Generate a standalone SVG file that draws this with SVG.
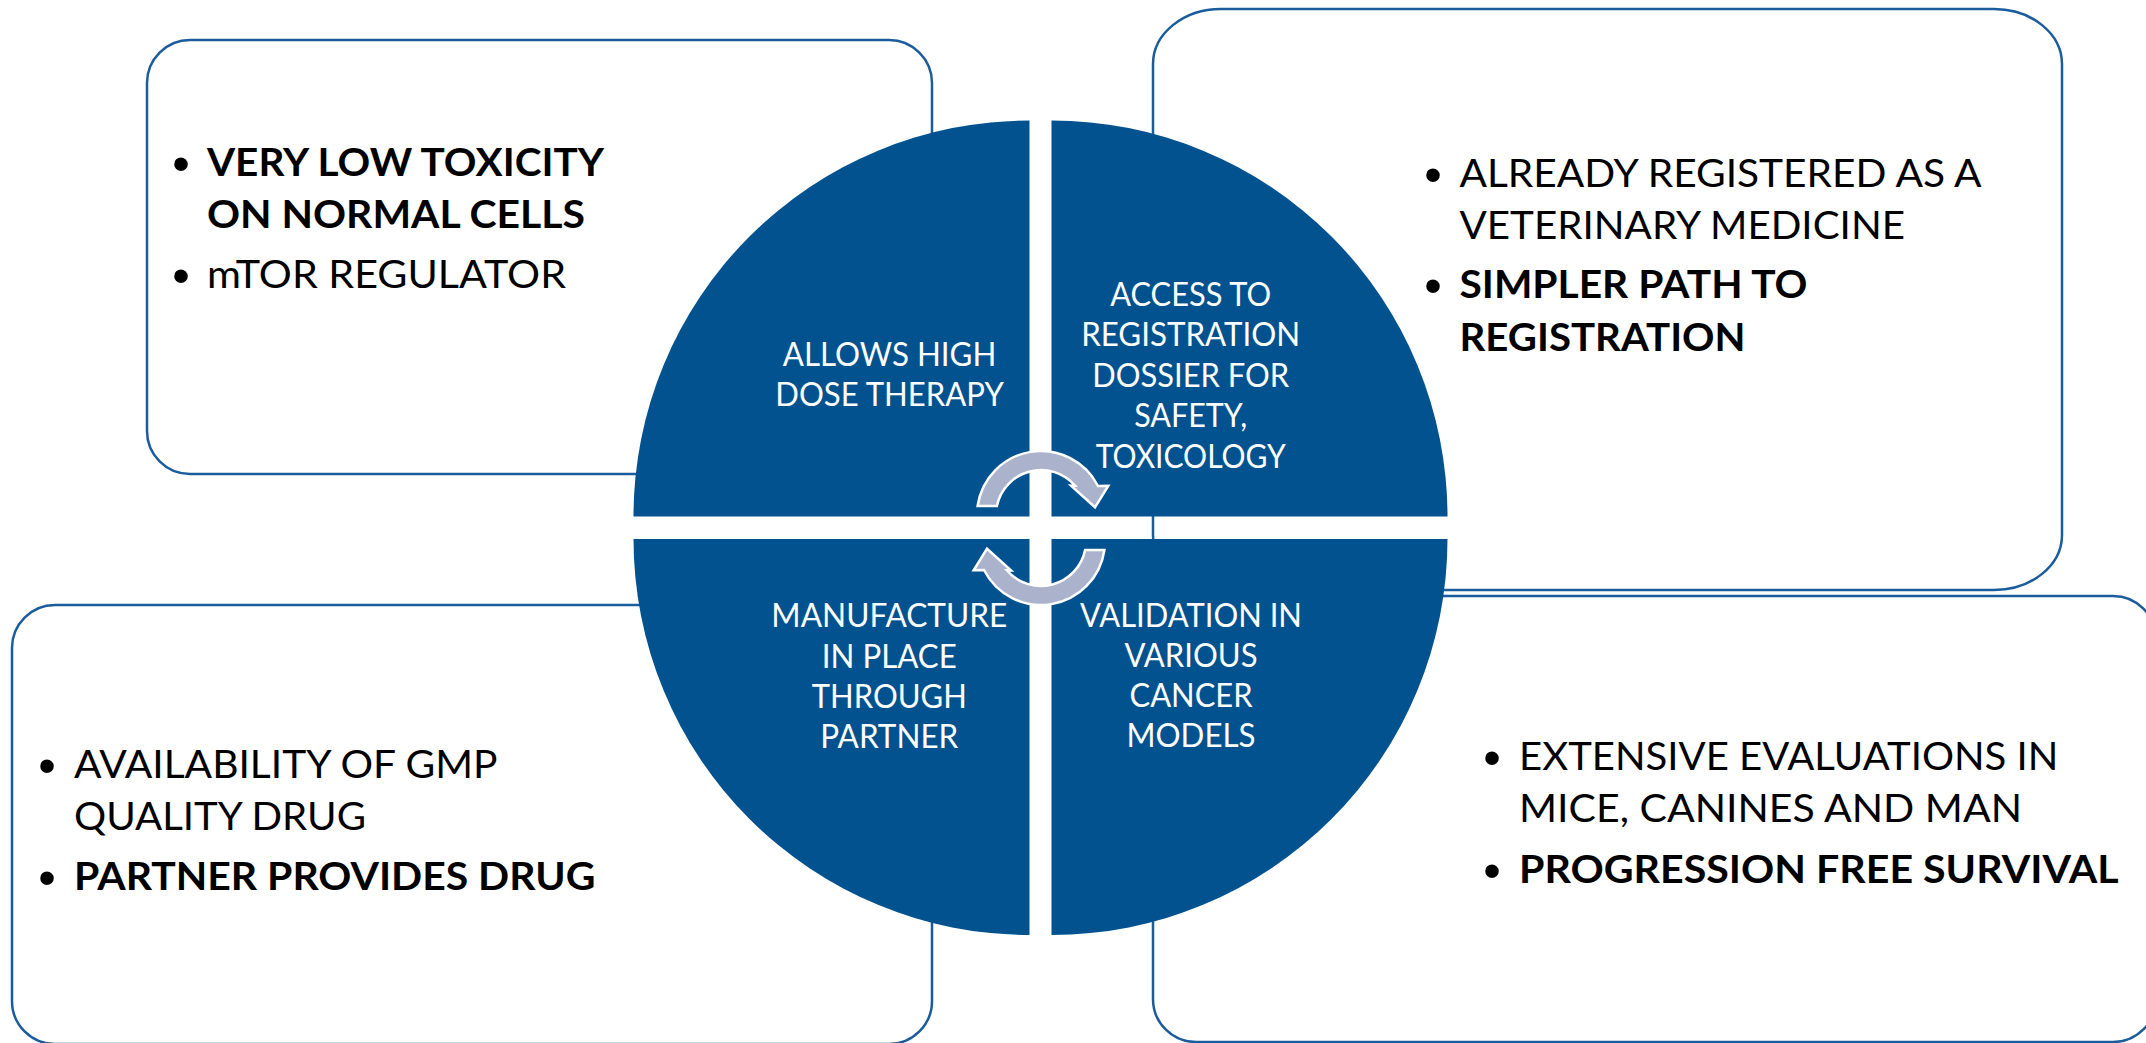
<svg xmlns="http://www.w3.org/2000/svg" width="2146" height="1043" viewBox="0 0 2146 1043">
<style>
.box{fill:#ffffff;stroke:#1B5C9C;stroke-width:2.5}
.q{fill:#02528F}
.bt{font-family:Lato,'Open Sans','Liberation Sans',sans-serif;font-size:39px;fill:#000000}
.b{font-weight:bold}
.bul{font-family:'Liberation Sans',sans-serif;font-size:50px;fill:#000000;text-anchor:middle}
.qt{font-family:Lato,'Open Sans','Liberation Sans',sans-serif;font-size:32px;fill:#ffffff;text-anchor:middle}
.arr{fill:#AAB3CB;stroke:#ffffff;stroke-width:2.5;stroke-linejoin:miter}
</style>
<defs>
<path id="cyc" d="M977.6,506 A64,64 0 0 1 1098,486 L1108.3,485.7 L1095,507.3 L1071,485.7 L1075.2,485.8 A45,45 0 0 0 996.9,506 Z"/>
</defs>
<rect width="2146" height="1043" fill="#ffffff"/>

<g id="box-top-left">
<rect class="box" x="147" y="40" width="785" height="434" rx="43" ry="43"/>
<text class="bul" x="181" y="181">•</text>
<text class="bt b" x="207" y="176" textLength="397" lengthAdjust="spacingAndGlyphs">VERY LOW TOXICITY</text>
<text class="bt b" x="207" y="227.6" textLength="378" lengthAdjust="spacingAndGlyphs">ON NORMAL CELLS</text>
<text class="bul" x="181" y="293.4">•</text>
<text class="bt" x="207" y="288.4" textLength="359" lengthAdjust="spacingAndGlyphs">mTOR REGULATOR</text>
</g>

<g id="box-top-right">
<rect class="box" x="1153" y="9" width="909" height="581" rx="68" ry="55"/>
<text class="bul" x="1433" y="191.7">•</text>
<text class="bt" x="1459.5" y="186.7" textLength="522" lengthAdjust="spacingAndGlyphs">ALREADY REGISTERED AS A</text>
<text class="bt" x="1459.5" y="239.3" textLength="445.5" lengthAdjust="spacingAndGlyphs">VETERINARY MEDICINE</text>
<text class="bul" x="1433" y="302.5">•</text>
<text class="bt b" x="1459.5" y="297.5" textLength="348" lengthAdjust="spacingAndGlyphs">SIMPLER PATH TO</text>
<text class="bt b" x="1459.5" y="350.5" textLength="286" lengthAdjust="spacingAndGlyphs">REGISTRATION</text>
</g>

<g id="box-bottom-left">
<rect class="box" x="12" y="605" width="920" height="439" rx="43" ry="43"/>
<text class="bul" x="47" y="783.3">•</text>
<text class="bt" x="74" y="778.3" textLength="423.5" lengthAdjust="spacingAndGlyphs">AVAILABILITY OF GMP</text>
<text class="bt" x="74" y="830" textLength="292" lengthAdjust="spacingAndGlyphs">QUALITY DRUG</text>
<text class="bul" x="47" y="895">•</text>
<text class="bt b" x="74" y="890" textLength="521.4" lengthAdjust="spacingAndGlyphs">PARTNER PROVIDES DRUG</text>
</g>

<g id="box-bottom-right">
<rect class="box" x="1153" y="596" width="1003" height="446" rx="43" ry="43"/>
<text class="bul" x="1492" y="775">•</text>
<text class="bt" x="1519" y="770" textLength="539.4" lengthAdjust="spacingAndGlyphs">EXTENSIVE EVALUATIONS IN</text>
<text class="bt" x="1519" y="821.7" textLength="503" lengthAdjust="spacingAndGlyphs">MICE, CANINES AND MAN</text>
<text class="bul" x="1492" y="887.7">•</text>
<text class="bt b" x="1519" y="882.7" textLength="599.6" lengthAdjust="spacingAndGlyphs">PROGRESSION FREE SURVIVAL</text>
</g>

<g id="quadrant-top-left">
<path class="q" d="M1029.5,516.5 L633.5,516.5 A396,396 0 0 1 1029.5,120.5 Z"/>
<text class="qt" x="889.6" y="366" textLength="213.5" lengthAdjust="spacingAndGlyphs">ALLOWS HIGH</text>
<text class="qt" x="889.6" y="406" textLength="228.6" lengthAdjust="spacingAndGlyphs">DOSE THERAPY</text>
</g>

<g id="quadrant-top-right">
<path class="q" d="M1051.5,516.5 L1051.5,120.5 A396,396 0 0 1 1447.5,516.5 Z"/>
<text class="qt" x="1190.7" y="305.5" textLength="161" lengthAdjust="spacingAndGlyphs">ACCESS TO</text>
<text class="qt" x="1190.7" y="346" textLength="219" lengthAdjust="spacingAndGlyphs">REGISTRATION</text>
<text class="qt" x="1190.7" y="386.5" textLength="197" lengthAdjust="spacingAndGlyphs">DOSSIER FOR</text>
<text class="qt" x="1190.7" y="427" textLength="113" lengthAdjust="spacingAndGlyphs">SAFETY,</text>
<text class="qt" x="1190.7" y="467.5" textLength="190" lengthAdjust="spacingAndGlyphs">TOXICOLOGY</text>
</g>

<g id="quadrant-bottom-left">
<path class="q" d="M1029.5,539 L1029.5,935 A396,396 0 0 1 633.5,539 Z"/>
<text class="qt" x="889.3" y="627.3" textLength="236" lengthAdjust="spacingAndGlyphs">MANUFACTURE</text>
<text class="qt" x="889.3" y="668.3" textLength="135" lengthAdjust="spacingAndGlyphs">IN PLACE</text>
<text class="qt" x="889.3" y="708.3" textLength="155" lengthAdjust="spacingAndGlyphs">THROUGH</text>
<text class="qt" x="889.3" y="748.3" textLength="138" lengthAdjust="spacingAndGlyphs">PARTNER</text>
</g>

<g id="quadrant-bottom-right">
<path class="q" d="M1051.5,539 L1447.5,539 A396,396 0 0 1 1051.5,935 Z"/>
<text class="qt" x="1191" y="626.7" textLength="222" lengthAdjust="spacingAndGlyphs">VALIDATION IN</text>
<text class="qt" x="1191" y="667.3" textLength="133" lengthAdjust="spacingAndGlyphs">VARIOUS</text>
<text class="qt" x="1191" y="707.3" textLength="123" lengthAdjust="spacingAndGlyphs">CANCER</text>
<text class="qt" x="1191" y="747.3" textLength="129" lengthAdjust="spacingAndGlyphs">MODELS</text>
</g>

<g id="connectors">
<use href="#cyc" class="arr"/>
<use href="#cyc" class="arr" transform="rotate(180 1041 528)"/>
</g>
</svg>
